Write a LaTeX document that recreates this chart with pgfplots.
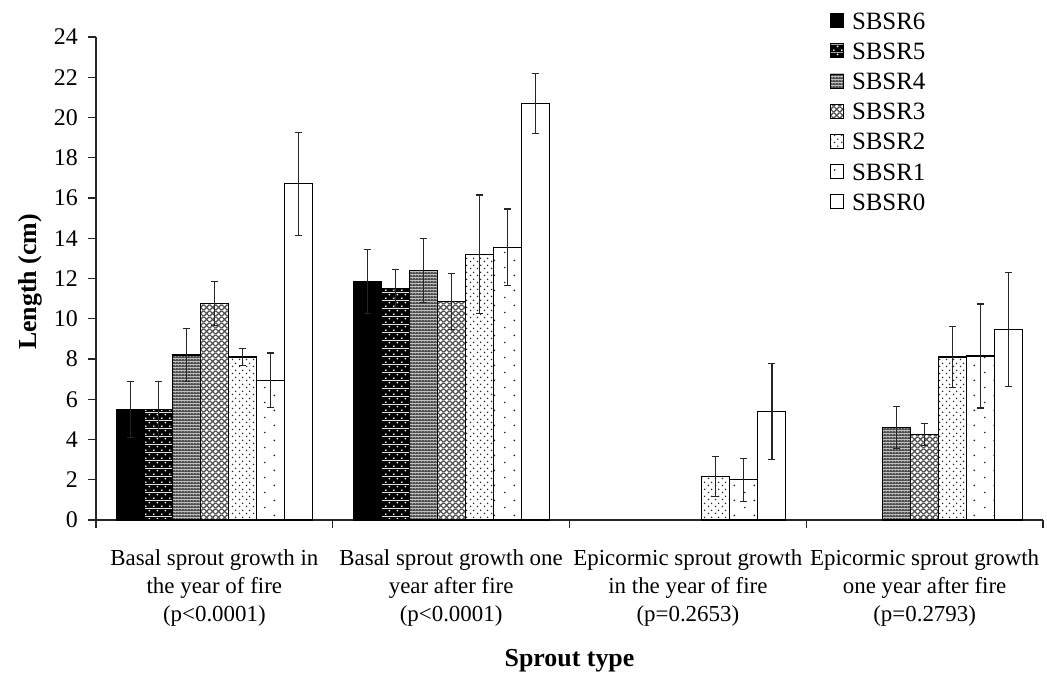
\documentclass[border=0pt]{standalone}
\usepackage{fontspec}
\setmainfont{Liberation Serif}
\usepackage{pgfplots}
\pgfplotsset{compat=1.18}
\usetikzlibrary{patterns}

% Fill patterns for the seven burn-severity classes
\pgfdeclarepatterninherentlycolored{sbsrfive}{\pgfpointorigin}{\pgfpoint{8bp}{8bp}}{\pgfpoint{8bp}{8bp}}{%
  \pgfsetfillcolor{black}\pgfpathrectangle{\pgfpointorigin}{\pgfpoint{8bp}{8bp}}\pgfusepath{fill}%
  \pgfsetfillcolor{white}%
  \pgfpathcircle{\pgfpoint{2bp}{2bp}}{1.05bp}%
  \pgfpathcircle{\pgfpoint{6bp}{6bp}}{1.05bp}\pgfusepath{fill}}
\pgfdeclarepatterninherentlycolored{sbsrfour}{\pgfpointorigin}{\pgfpoint{3bp}{3bp}}{\pgfpoint{3bp}{3bp}}{%
  \pgfsetfillcolor{black!70}\pgfpathrectangle{\pgfpointorigin}{\pgfpoint{3bp}{3bp}}\pgfusepath{fill}%
  \pgfsetfillcolor{white}\pgfpathrectangle{\pgfpoint{1bp}{1bp}}{\pgfpoint{1bp}{1bp}}\pgfusepath{fill}}
\pgfdeclarepatterninherentlycolored{sbsrthree}{\pgfpointorigin}{\pgfpoint{6bp}{6bp}}{\pgfpoint{6bp}{6bp}}{%
  \pgfsetfillcolor{white}\pgfpathrectangle{\pgfpointorigin}{\pgfpoint{6bp}{6bp}}\pgfusepath{fill}%
  \pgfsetstrokecolor{black!70}\pgfsetlinewidth{1.3bp}%
  \pgfpathmoveto{\pgfpoint{-1bp}{-1bp}}\pgfpathlineto{\pgfpoint{7bp}{7bp}}%
  \pgfpathmoveto{\pgfpoint{-1bp}{7bp}}\pgfpathlineto{\pgfpoint{7bp}{-1bp}}\pgfusepath{stroke}}
\pgfdeclarepatterninherentlycolored{sbsrtwo}{\pgfpointorigin}{\pgfpoint{7bp}{7bp}}{\pgfpoint{7bp}{7bp}}{%
  \pgfsetfillcolor{white}\pgfpathrectangle{\pgfpointorigin}{\pgfpoint{7bp}{7bp}}\pgfusepath{fill}%
  \pgfsetfillcolor{black!85}%
  \pgfpathcircle{\pgfpoint{1.75bp}{1.75bp}}{0.9bp}%
  \pgfpathcircle{\pgfpoint{5.25bp}{5.25bp}}{0.9bp}\pgfusepath{fill}}
\pgfdeclarepatterninherentlycolored{sbsrone}{\pgfpointorigin}{\pgfpoint{20bp}{15bp}}{\pgfpoint{20bp}{15bp}}{%
  \pgfsetfillcolor{white}\pgfpathrectangle{\pgfpointorigin}{\pgfpoint{20bp}{15bp}}\pgfusepath{fill}%
  \pgfsetfillcolor{black!85}%
  \pgfpathcircle{\pgfpoint{5bp}{3.75bp}}{1bp}%
  \pgfpathcircle{\pgfpoint{15bp}{11.25bp}}{1bp}\pgfusepath{fill}}

\pgfplotsset{
  sbsrbar/.style={
    draw=black, line width=1.1bp,
    legend image code/.code={\draw[##1, line width=0.8bp] (0bp,-7bp) rectangle (13bp,7bp);},
    error bars/y dir=both, error bars/y explicit,
    error bars/error bar style={line width=1.2bp, black!85},
    error bars/error mark options={rotate=90, mark size=3.5bp, line width=1.2bp, black!85}
  }
}

\begin{document}
\begin{tikzpicture}
\begin{axis}[
  at={(0,0)}, anchor=south west,
  scale only axis, width=947bp, height=483bp,
  xmin=0, xmax=4, ymin=0, ymax=24,
  axis x line*=bottom, axis y line*=left,
  axis line style={line width=1.1bp, black!85},
  tick style={line width=1.1bp, black!85},
  tick align=outside, major tick length=8bp,
  ytick={0,2,...,24},
  xtick={0,1,2,3,4}, xticklabel=\empty,
  extra x ticks={0.5,1.5,2.5,3.5},
  extra x tick labels={Basal sprout growth in\\the year of fire\\(p<0.0001),
    Basal sprout growth one\\year after fire\\(p<0.0001),
    Epicormic sprout growth\\in the year of fire\\(p=0.2653),
    Epicormic sprout growth\\one year after fire\\(p=0.2793)},
  extra x tick style={major tick length=0pt,
    xticklabel style={anchor=north, inner sep=0pt, yshift=-29bp, align=center,
      font=\fontsize{23}{28.5}\selectfont}},
  /pgf/number format/assume math mode=true,
  yticklabel style={anchor=east, inner sep=0pt, xshift=-10bp, font=\fontsize{24}{28}\selectfont},
  ylabel={\textbf{Length (cm)}},
  every axis y label/.style={at={(axis description cs:-0.0623,0.493)}, anchor=base,
    rotate=90, font=\fontsize{26}{30}\selectfont},
  xlabel={\textbf{Sprout type}},
  every axis x label/.style={at={(axis description cs:0.5,-0.3043)}, anchor=base,
    font=\fontsize{26}{30}\selectfont},
  ybar, bar width=0.1183,
  legend style={at={(0.7751,1.052)}, anchor=north west, draw=none, fill=none,
    font=\fontsize{25}{28}\selectfont, row sep=13.2bp, column sep=8bp, inner sep=0pt,
    nodes={inner sep=0pt, text height=17bp, text depth=0bp}},
  legend cell align=left,
]
\addplot[sbsrbar, fill=black, bar shift=-0.3549] coordinates {
  (0.5,5.5) +- (0,1.4)
  (1.5,11.85) +- (0,1.6)
};
\addplot[sbsrbar, pattern=sbsrfive, bar shift=-0.2366] coordinates {
  (0.5,5.5) +- (0,1.4)
  (1.5,11.5) +- (0,0.95)
};
\addplot[sbsrbar, pattern=sbsrfour, bar shift=-0.1183] coordinates {
  (0.5,8.2) +- (0,1.3)
  (1.5,12.4) +- (0,1.6)
  (3.5,4.6) +- (0,1.05)
};
\addplot[sbsrbar, pattern=sbsrthree, bar shift=0] coordinates {
  (0.5,10.75) +- (0,1.1)
  (1.5,10.85) +- (0,1.4)
  (3.5,4.25) +- (0,0.56)
};
\addplot[sbsrbar, pattern=sbsrtwo, bar shift=0.1183] coordinates {
  (0.5,8.1) +- (0,0.42)
  (1.5,13.2) +- (0,2.95)
  (2.5,2.15) +- (0,1.0)
  (3.5,8.1) +- (0,1.52)
};
\addplot[sbsrbar, pattern=sbsrone, bar shift=0.2366] coordinates {
  (0.5,6.95) +- (0,1.35)
  (1.5,13.55) +- (0,1.9)
  (2.5,2.0) +- (0,1.07)
  (3.5,8.15) +- (0,2.58)
};
\addplot[sbsrbar, fill=white, bar shift=0.3549] coordinates {
  (0.5,16.7) +- (0,2.55)
  (1.5,20.7) +- (0,1.5)
  (2.5,5.4) +- (0,2.38)
  (3.5,9.45) +- (0,2.83)
};
\legend{SBSR6,SBSR5,SBSR4,SBSR3,SBSR2,SBSR1,SBSR0}
\end{axis}
\pgfresetboundingbox
\path[use as bounding box] (-96bp,-156bp) rectangle (951bp,520bp);
\end{tikzpicture}
\end{document}
